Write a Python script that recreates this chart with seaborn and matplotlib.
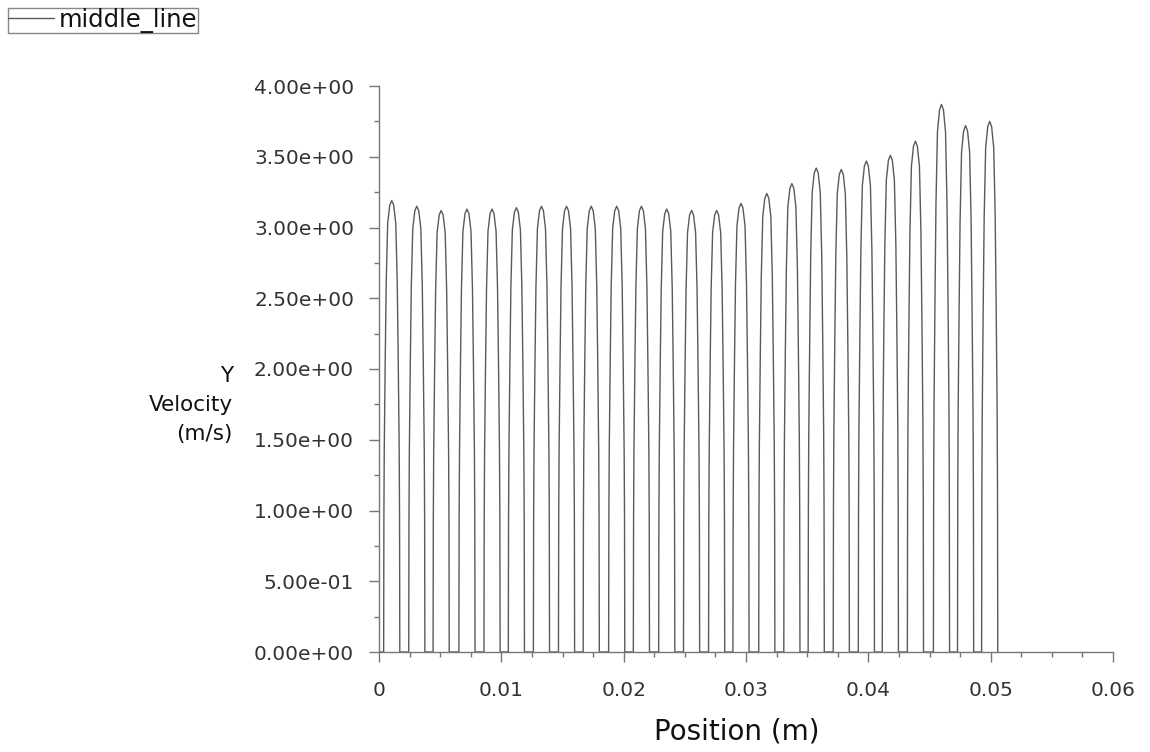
import numpy as np
import pandas as pd
import matplotlib
matplotlib.use("Agg")
import matplotlib.pyplot as plt
import matplotlib.ticker as mticker
import seaborn as sns

# --- DATA ---
# centre of each channel hump along the middle line (m)
hump_centres = [0.00104, 0.00309, 0.00508, 0.00719, 0.00924, 0.01123, 0.01328,
                0.01533, 0.01735, 0.01943, 0.02145, 0.02352, 0.02555, 0.02760,
                0.02959, 0.03170, 0.03375, 0.03574, 0.03779, 0.03984, 0.04180,
                0.04385, 0.04598, 0.04795, 0.04992]
# peak Y velocity of each hump (m/s)
hump_peaks = [3.19, 3.15, 3.12, 3.13, 3.13, 3.14, 3.15, 3.15, 3.15, 3.15, 3.15,
              3.13, 3.12, 3.12, 3.17, 3.24, 3.31, 3.42, 3.41, 3.47, 3.51, 3.61,
              3.87, 3.72, 3.75]
# shape of one hump: offset from centre (m) and fraction of the peak
profile_offsets = [-0.00066, -0.00064, -0.00061, -0.00053, -0.00045, -0.00033,
                   -0.00016, 0.0, 0.00016, 0.00033, 0.00045, 0.00053, 0.00061,
                   0.00064, 0.00066]
profile_fracs = [0.0, 0.30, 0.45, 0.65, 0.82, 0.95, 0.99, 1.0, 0.99, 0.95, 0.82,
                 0.65, 0.45, 0.30, 0.0]

x_ticks = [0, 0.01, 0.02, 0.03, 0.04, 0.05, 0.06]
x_ticklabels = ["0", "0.01", "0.02", "0.03", "0.04", "0.05", "0.06"]
y_ticks = [0.0, 0.5, 1.0, 1.5, 2.0, 2.5, 3.0, 3.5, 4.0]

# build the polyline from the humps
xs, ys = [0.0], [0.0]
for c, p in zip(hump_centres, hump_peaks):
    for off, fr in zip(profile_offsets, profile_fracs):
        xs.append(c + off)
        ys.append(p * fr)
df = pd.DataFrame({"Position": xs, "Velocity": ys})

# --- PLOT ---
sns.set_style("white")
plt.rcParams["font.family"] = ["DejaVu Sans"]

fig = plt.figure(figsize=(11.5, 7.52), dpi=100)
ax = fig.add_axes([379 / 1150, 1 - 652 / 752, (1113 - 379) / 1150, (652 - 86) / 752])

sns.lineplot(data=df, x="Position", y="Velocity", sort=False, estimator=None,
             color="#5a5a5a", linewidth=1.0, ax=ax, label="middle_line", legend=False)

ax.set_xlim(0, 0.06)
ax.set_ylim(0, 4.0)
ax.set_xticks(x_ticks)
ax.set_xticklabels(x_ticklabels)
ax.set_yticks(y_ticks)
ax.yaxis.set_major_formatter(mticker.FuncFormatter(lambda v, _: f"{v:.2e}"))
ax.xaxis.set_minor_locator(mticker.MultipleLocator(0.0025))
ax.yaxis.set_minor_locator(mticker.MultipleLocator(0.25))

for side in ["top", "right"]:
    ax.spines[side].set_visible(False)
for side in ["left", "bottom"]:
    ax.spines[side].set_color("#777777")
    ax.spines[side].set_linewidth(1.0)

ax.tick_params(which="major", direction="out", length=7, width=1, color="#777777",
               labelsize=14.5, labelcolor="#333333", left=True, bottom=True)
ax.tick_params(which="minor", direction="out", length=3.5, width=1, color="#777777",
               left=True, bottom=True)
ax.tick_params(axis="y", which="major", pad=11)
ax.tick_params(axis="x", which="major", pad=14)

ax.set_xlabel("Position (m)", fontsize=20, color="#111111")
ax.xaxis.set_label_coords(0.487, -0.115)
ax.set_ylabel("")
fig.text(233 / 1150, 1 - 405 / 752, "Y\nVelocity\n(m/s)", ha="right", va="center",
         multialignment="right", fontsize=15.5, color="#111111", linespacing=1.55)

leg = fig.legend(loc="upper left", bbox_to_anchor=(8 / 1150, 1 - 8 / 752),
                 fontsize=17.5, frameon=True, fancybox=False, edgecolor="#888888",
                 framealpha=1, borderpad=0.0, borderaxespad=0, handlelength=1.9,
                 handletextpad=0.2)
leg.get_frame().set_linewidth(1.0)
for t in leg.get_texts():
    t.set_color("#111111")

fig.savefig("out.png", dpi=100)
